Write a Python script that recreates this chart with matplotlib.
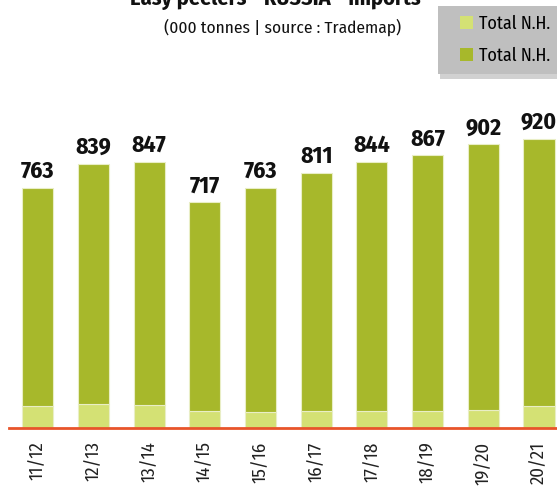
import numpy as np
import matplotlib
matplotlib.use('Agg')
import matplotlib.pyplot as plt
from matplotlib import font_manager
from matplotlib.patches import Rectangle

# pick a condensed font, close to the Myriad Condensed look of the original
installed = set(f.name for f in font_manager.fontManager.ttflist)
cond = [n for n in ['Fira Sans Condensed', 'PT Sans Narrow', 'Roboto Condensed', 'Archivo Narrow']
        if n in installed]
plt.rcParams['font.family'] = cond[:1] + ['DejaVu Sans']

# data (000 tonnes)
seasons = ['11/12', '12/13', '13/14', '14/15', '15/16', '16/17', '17/18', '18/19', '19/20', '20/21']
totals = [763, 839, 847, 717, 763, 811, 844, 867, 902, 920]
light_part = [70, 74, 73, 52, 48, 52, 52, 52, 57, 70]
dark_part = [t - l for t, l in zip(totals, light_part)]
legend_labels = ['Total N.H.', 'Total N.H.']

light_col = '#D4E174'
dark_col = '#A7B82B'
edge_col = '#E9EEC6'
axis_col = '#E8542A'

W, H = 557, 487
fig = plt.figure(figsize=(W/100, H/100), dpi=100)
ax = fig.add_axes([8.7/W, (H-427.5)/H, 1-8.7/W, 427.5/H])

x = np.arange(len(seasons))
b1 = ax.bar(x, light_part, width=0.557, color=light_col, edgecolor=edge_col, linewidth=0.8)
b2 = ax.bar(x, dark_part, width=0.557, bottom=light_part, color=dark_col, edgecolor=edge_col, linewidth=0.8)

for i in range(len(seasons)):
    ax.annotate(str(totals[i]), xy=(x[i], totals[i]), xytext=(0, 7.2), textcoords='offset points',
                ha='center', va='baseline', fontsize=17, fontweight='bold', color='#111111')

ax.set_xlim(-0.52, 9.323)
ax.set_ylim(0, 427.5/0.314)
for s in ['top', 'left', 'right']:
    ax.spines[s].set_visible(False)
ax.spines['bottom'].set_color(axis_col)
ax.spines['bottom'].set_linewidth(2)
ax.set_yticks([])
ax.set_xticks(x)
ax.set_xticklabels(seasons, rotation=90, fontsize=13.5, color='#222222')
ax.tick_params(axis='x', length=0, pad=10)

fig.text(275/W, 1-5/H, 'Easy peelers - RUSSIA - imports', ha='center', va='baseline',
         fontsize=16, fontweight='bold', color='#111111')
fig.text(283/W, 1-33/H, '(000 tonnes | source : Trademap)', ha='center', va='baseline',
         fontsize=12.5, color='#111111')

# grey legend box (runs past the right edge) with a soft shadow below
fig.patches.append(Rectangle((440/W, 1-79/H), 130/W, 70/H, transform=fig.transFigure,
                             facecolor='#9A9A9A', alpha=0.45, edgecolor='none', zorder=1))
fig.patches.append(Rectangle((437.7/W, 1-74/H), 130/W, 68/H, transform=fig.transFigure,
                             facecolor='#BFBFBF', edgecolor='none', zorder=2))
leg = fig.legend([b1, b2], legend_labels, loc='upper left',
                 bbox_to_anchor=(460/W, 1-15/H), borderaxespad=0, borderpad=0,
                 fontsize=13, frameon=False,
                 handlelength=0.7, handleheight=0.7, handletextpad=0.35,
                 labelspacing=0.78)
leg.set_zorder(3)
for h in leg.legend_handles:
    h.set_edgecolor('none')

fig.savefig('out.png', dpi=100)
